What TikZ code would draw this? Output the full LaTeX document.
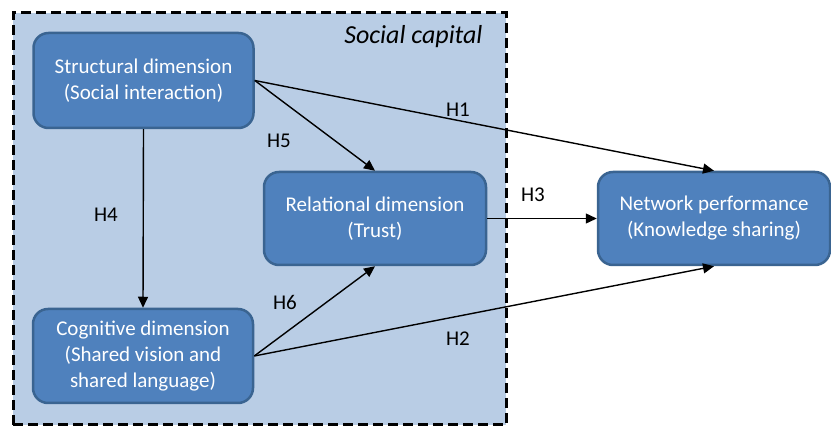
\documentclass[tikz,border=0pt]{standalone}
\usepackage{fontspec}
\setmainfont{Carlito}
\usepackage{tikz}
\usetikzlibrary{arrows.meta, positioning}
\definecolor{dimfill}{HTML}{4F81BD}
\definecolor{dimline}{HTML}{3A6491}
\definecolor{capfill}{HTML}{B9CDE5}

\begin{document}
\begin{tikzpicture}[
  x=1pt, y=-1pt,
  dimbox/.style={draw=dimline, line width=2.5pt, rounded corners=15pt, fill=dimfill, text=white, align=center, font=\fontsize{21}{26}\selectfont, minimum width=#1},
  dimbox/.default=220pt,
  arr/.style={-{Triangle[length=11pt,width=10pt]}, line width=1.4pt},
  hyp/.style={font=\fontsize{21}{24}\selectfont}
]
\useasboundingbox (0,0) rectangle (831,427);
% Social capital frame
\node[draw, dashed, line width=3pt, dash pattern=on 10pt off 5pt, fill=capfill, minimum width=493pt, minimum height=412pt] (cap) at (259.5,219) {};
\node[font=\fontsize{26}{28}\selectfont\itshape, anchor=east] (captitle) at (486,37) {Social capital};

% Dimensions
\node[dimbox, minimum height=95pt] (struct) at (143.5,80.5) {Structural dimension\\(Social interaction)};
\node[dimbox, minimum height=94pt] (cog) at (143,356) {Cognitive dimension\\(Shared vision and\\shared language)};
\node[dimbox=222pt, minimum height=93pt] (rel) at (375,218.5) {Relational dimension\\(Trust)};
\node[dimbox=232pt, minimum height=93pt] (net) at (714,218.5) {Network performance\\(Knowledge sharing)};

% Hypotheses
\draw[arr] (struct.east) -- (net.north);
\draw[arr] (struct.east) -- (rel.north);
\draw[arr] (struct.south) -- (cog.north);
\draw[arr] (rel.east) -- (net.west);
\draw[arr] (cog.east) -- (rel.south);
\draw[arr] (cog.east) -- (net.south);
\node[hyp] (h1) at (458,110) {H1};
\node[hyp] (h2) at (458,339) {H2};
\node[hyp] (h3) at (533,195) {H3};
\node[hyp] (h4) at (106,215) {H4};
\node[hyp] (h5) at (279,141) {H5};
\node[hyp] (h6) at (285,302) {H6};
\end{tikzpicture}
\end{document}
